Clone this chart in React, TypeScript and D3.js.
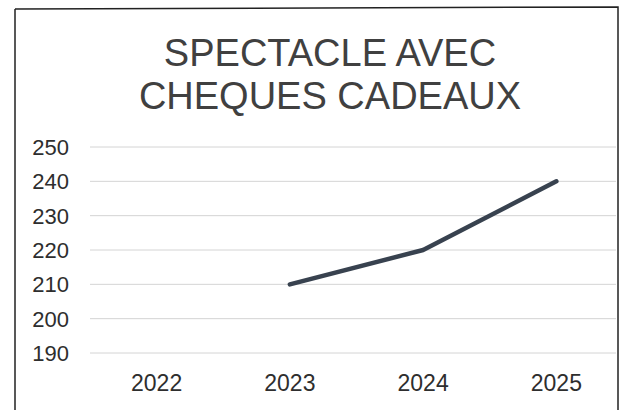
import React from "react";
import * as d3 from "d3";

const titleLines = ["SPECTACLE AVEC", "CHEQUES CADEAUX"];
const years = ["2022", "2023", "2024", "2025"];
const values: (number | null)[] = [null, 210, 220, 240];
const yTicks = [190, 200, 210, 220, 230, 240, 250];

export default function App() {
  const W = 629;
  const H = 410;
  const x = d3.scalePoint<string>().domain(years).range([90, 623]).padding(0.5);
  const y = d3.scaleLinear().domain([190, 250]).range([353, 147]);
  const pts = years.map((yr, i) => ({ yr, v: values[i] }));
  const line = d3
    .line<{ yr: string; v: number | null }>()
    .defined((d) => d.v !== null)
    .x((d) => x(d.yr) as number)
    .y((d) => y(d.v as number));
  const font = "'Liberation Sans', Arial, sans-serif";
  return (
    <svg
      width={W}
      height={H}
      style={{ position: "absolute", left: 0, top: 0, background: "#fff" }}
    >
      <rect x={0} y={0} width={W} height={H} fill="#fff" />
      <path d="M15,9 L618,7 L618,420 M15,9 L15,420" fill="none" stroke="#222" strokeWidth={1.5} />
      {titleLines.map((t, i) => (
        <text
          key={t}
          x={330}
          y={66 + i * 43}
          textAnchor="middle"
          fontFamily={font}
          fontSize={38}
          fill="#404040"
        >
          {t}
        </text>
      ))}
      {yTicks.map((t) => (
        <g key={t}>
          <line x1={90} x2={616} y1={y(t)} y2={y(t)} stroke="#d4d4d4" strokeWidth={1} />
          <text
            x={69}
            y={y(t) + 8}
            textAnchor="end"
            fontFamily={font}
            fontSize={22}
            fill="#2e2e2e"
          >
            {t}
          </text>
        </g>
      ))}
      {years.map((yr) => (
        <text
          key={yr}
          x={x(yr)}
          y={391}
          textAnchor="middle"
          fontFamily={font}
          fontSize={23}
          fill="#2e2e2e"
        >
          {yr}
        </text>
      ))}
      <path
        d={line(pts) || ""}
        fill="none"
        stroke="#38424f"
        strokeWidth={4.5}
        strokeLinecap="round"
        strokeLinejoin="round"
      />
    </svg>
  );
}
